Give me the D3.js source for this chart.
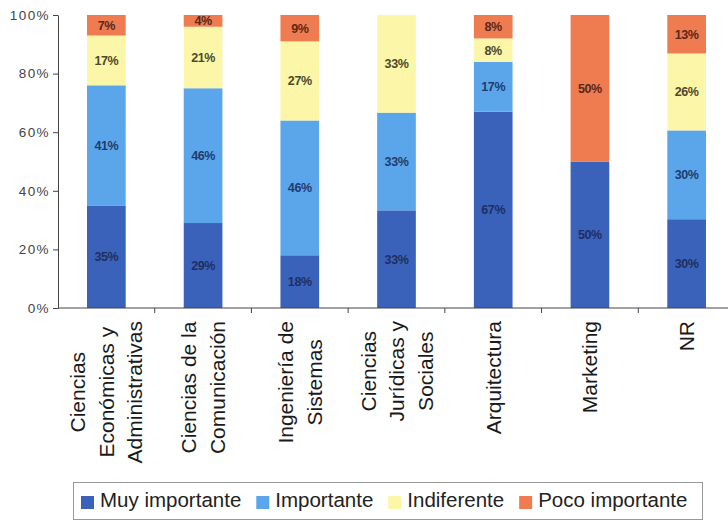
<!DOCTYPE html>
<html lang="es">
<head>
  <meta charset="UTF-8" />
  <title>Importancia por carrera</title>
  <style>
    body { margin: 0; background: #fff; }
    svg { display: block; font-family: "Liberation Sans", Arial, sans-serif; }
  </style>
</head>
<body>
  <svg id="chart" width="728" height="523"></svg>
  <script src="https://d3js.org/d3.v7.min.js"></script>
  <script>
    // categories, one array of label lines per bar
    const categories = [
      ["Ciencias", "Económicas y", "Administrativas"],
      ["Ciencias de la", "Comunicación"],
      ["Ingeniería de", "Sistemas"],
      ["Ciencias", "Jurídicas y", "Sociales"],
      ["Arquitectura"],
      ["Marketing"],
      ["NR"]
    ];
    const seriesNames = ["Muy importante", "Importante", "Indiferente", "Poco importante"];
    const muyImportante  = [35, 29, 18, 33, 67, 50, 30];
    const importante     = [41, 46, 46, 33, 17, 0, 30];
    const indiferente    = [17, 21, 27, 33, 8, 0, 26];
    const pocoImportante = [7, 4, 9, 0, 8, 50, 13];
    const yTicks = [0, 0.2, 0.4, 0.6, 0.8, 1];

    const colors = ["#3b62ba", "#5ba6ea", "#fbf6a8", "#ef7b50"];
    const labelColors = ["#1e2f62", "#1f3c6e", "#4c4a2c", "#5a2818"];

    const keys = categories.map(c => c.join(" "));
    const series = [muyImportante, importante, indiferente, pocoImportante];
    const rows = keys.map((k, i) => {
      const row = { key: k, lines: categories[i] };
      const total = d3.sum(series, s => s[i]);
      seriesNames.forEach((n, j) => { row[n] = series[j][i] / total; row["raw_" + n] = series[j][i]; });
      return row;
    });

    const svg = d3.select("#chart");
    const x = d3.scaleBand().domain(keys).range([58, 735]).paddingInner(0.6).paddingOuter(0.3);
    const y = d3.scaleLinear().domain([0, 1]).range([308, 15]);

    const stack = d3.stack().keys(seriesNames)(rows);

    const layers = svg.append("g").selectAll("g")
      .data(stack)
      .join("g")
      .attr("fill", (d, i) => colors[i]);

    layers.selectAll("rect")
      .data(d => d)
      .join("rect")
      .attr("x", d => x(d.data.key))
      .attr("y", d => y(d[1]))
      .attr("width", x.bandwidth())
      .attr("height", d => y(d[0]) - y(d[1]));

    // value labels
    stack.forEach((layer, i) => {
      svg.append("g").selectAll("text")
        .data(layer.filter(d => d.data["raw_" + layer.key] > 0))
        .join("text")
        .attr("x", d => x(d.data.key) + x.bandwidth() / 2)
        .attr("y", d => (y(d[0]) + y(d[1])) / 2)
        .attr("dy", "0.36em")
        .attr("text-anchor", "middle")
        .attr("font-size", 12.5)
        .attr("font-weight", "bold")
        .attr("letter-spacing", -0.4)
        .attr("fill", labelColors[i])
        .text(d => d.data["raw_" + layer.key] + "%");
    });

    // y axis
    const yAxis = svg.append("g")
      .attr("transform", `translate(${x.range()[0]},0)`)
      .call(d3.axisLeft(y).tickValues(yTicks).tickFormat(d3.format(".0%")).tickSize(5).tickSizeOuter(0));
    yAxis.select(".domain").attr("stroke", "#444");
    yAxis.selectAll(".tick line").attr("stroke", "#444");
    yAxis.selectAll(".tick text")
      .attr("font-family", "Liberation Sans, Arial, sans-serif")
      .attr("font-size", 13.5)
      .attr("letter-spacing", 1.4)
      .attr("fill", "#444")
      .attr("x", -8);

    // x axis line with ticks between categories
    const xAxis = svg.append("g");
    xAxis.append("line")
      .attr("x1", x.range()[0]).attr("x2", x.range()[1])
      .attr("y1", y(0)).attr("y2", y(0))
      .attr("stroke", "#444");
    xAxis.selectAll("line.tk")
      .data(keys)
      .join("line")
      .attr("class", "tk")
      .attr("x1", d => x(d) + x.bandwidth() / 2 + x.step() / 2)
      .attr("x2", d => x(d) + x.bandwidth() / 2 + x.step() / 2)
      .attr("y1", y(0)).attr("y2", y(0) + 5)
      .attr("stroke", "#444");

    // rotated category labels, lines centred on each other, block hung below axis
    const lineGap = 28.5;
    const labelTop = 321;
    keys.forEach((k, i) => {
      const lines = categories[i];
      const g = svg.append("g")
        .attr("transform", `translate(${x(k) + x.bandwidth() / 2},${labelTop}) rotate(-90)`);
      const texts = g.selectAll("text")
        .data(lines)
        .join("text")
        .attr("text-anchor", "middle")
        .attr("font-size", 21)
        .attr("fill", "#1a1a1a")
        .attr("y", (d, j) => (j - (lines.length - 1) / 2) * lineGap)
        .attr("dy", "0.36em")
        .text(d => d);
      const maxLen = d3.max(texts.nodes(), n => n.getComputedTextLength());
      texts.attr("x", -maxLen / 2);
    });

    // legend
    const legend = svg.append("g");
    legend.append("rect")
      .attr("x", 73.5).attr("y", 482.5)
      .attr("width", 629).attr("height", 37)
      .attr("fill", "none").attr("stroke", "#999");
    let lx = 81;
    seriesNames.forEach((n, i) => {
      legend.append("rect")
        .attr("x", lx).attr("y", 496)
        .attr("width", 13).attr("height", 13)
        .attr("fill", colors[i]);
      const t = legend.append("text")
        .attr("x", lx + 19).attr("y", 507)
        .attr("font-size", 20.5)
        .attr("fill", "#222")
        .text(n);
      lx += 19 + t.node().getComputedTextLength() + 15;
    });
  </script>
</body>
</html>
